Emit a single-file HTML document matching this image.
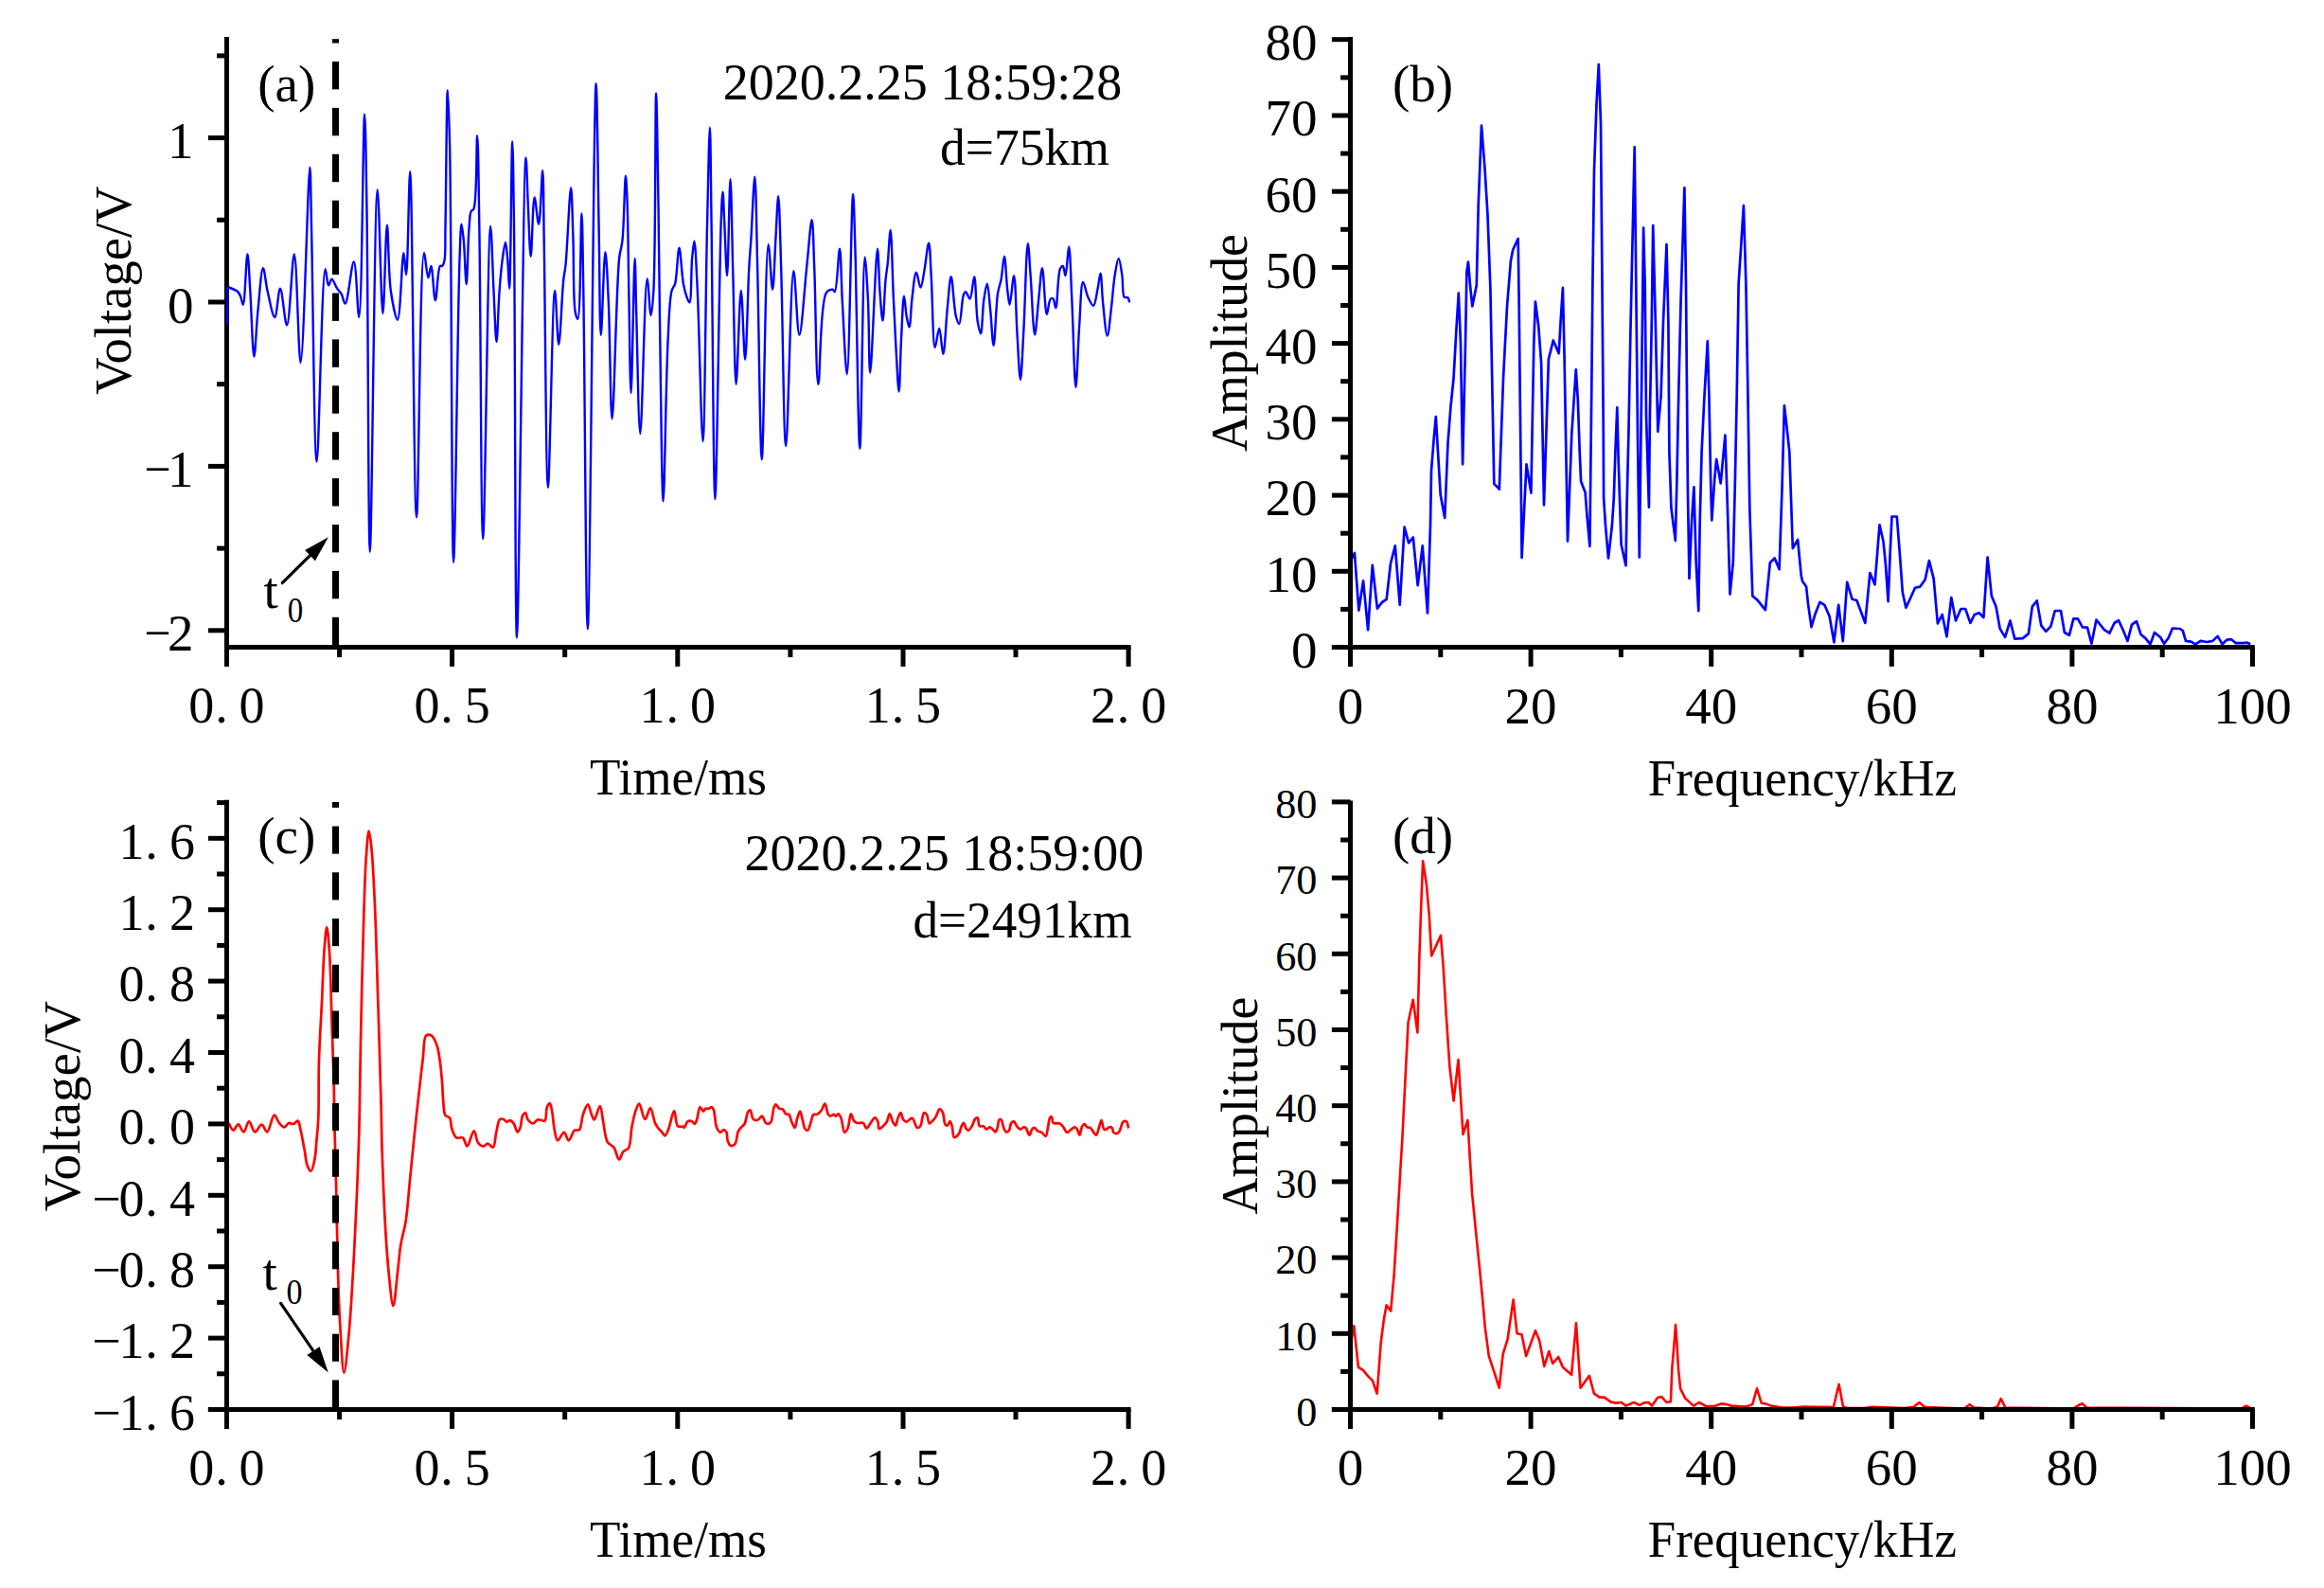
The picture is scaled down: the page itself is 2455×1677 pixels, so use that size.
<!DOCTYPE html><html><head><meta charset="utf-8"><style>html,body{margin:0;padding:0;background:#fff;overflow:hidden}svg{display:block}</style></head><body><svg width="2455" height="1677" viewBox="0 0 2455 1677">
<rect width="2455" height="1677" fill="#fff"/>
<path d="M240.0,343.0 C240.0,343.0 237.2,306.0 240.5,303.6 C241.6,302.8 243.4,304.4 245.0,305.0 C246.8,305.7 249.2,306.2 250.7,307.5 C252.2,308.8 253.1,310.9 254.1,313.0 C255.2,315.5 256.0,321.8 256.8,321.7 C258.8,321.5 260.1,268.4 261.4,268.4 C262.5,268.4 263.3,292.3 264.3,307.0 C265.6,326.8 266.9,376.5 268.4,376.5 C269.6,376.5 270.7,345.2 272.3,329.6 C273.9,314.1 275.9,283.3 277.9,283.2 C279.4,283.1 280.6,298.8 282.5,307.0 C284.6,316.0 288.0,335.1 290.2,335.0 C292.5,334.9 294.0,304.7 296.0,304.7 C298.3,304.7 300.9,343.5 303.1,343.4 C306.1,343.3 308.6,268.4 310.8,268.4 C313.6,268.5 315.3,383.0 317.6,383.0 C320.7,383.0 325.5,176.6 327.3,176.6 C328.3,176.6 328.3,211.3 329.0,239.0 C330.4,294.3 332.0,487.5 334.6,487.5 C337.0,487.5 339.9,284.6 343.6,284.3 C344.7,284.2 345.5,301.1 347.0,301.3 C348.0,301.4 349.1,294.6 350.4,294.6 C352.0,294.6 354.2,301.9 356.1,304.7 C357.6,306.9 359.3,308.1 360.6,310.4 C362.2,313.2 363.3,320.7 364.7,320.6 C367.6,320.3 371.4,276.3 373.8,276.4 C376.5,276.5 377.7,335.1 379.3,335.0 C382.3,334.9 383.6,120.7 385.1,120.7 C386.1,120.7 386.7,173.9 387.4,216.0 C388.8,298.5 389.0,582.7 390.8,582.7 C392.7,582.7 395.7,200.4 398.7,200.4 C400.5,200.4 402.6,331.0 404.4,331.0 C405.9,331.0 407.4,237.8 408.9,237.8 C410.2,237.8 410.2,288.6 412.8,307.0 C414.6,319.4 418.0,337.8 420.0,337.7 C423.0,337.5 424.6,267.3 426.4,267.3 C427.4,267.3 428.3,290.0 429.1,290.0 C430.9,289.9 431.9,181.2 433.2,181.2 C435.6,181.2 437.3,546.4 440.0,546.4 C442.3,546.4 443.6,267.6 447.9,267.3 C449.2,267.2 450.9,293.4 452.4,293.4 C453.4,293.4 454.4,280.8 455.4,280.9 C457.0,281.0 458.3,317.2 459.9,317.2 C461.5,317.2 462.2,283.3 464.9,280.9 C465.6,280.3 466.5,281.3 467.1,280.9 C468.2,280.2 468.9,277.9 469.5,275.0 C470.9,268.2 470.1,255.0 470.5,239.0 C471.2,207.0 471.8,95.1 472.8,95.1 C473.5,95.1 474.4,124.7 475.1,153.0 C477.0,231.2 477.1,594.0 479.1,594.0 C480.8,594.0 483.5,328.3 485.5,274.0 C486.2,255.5 486.6,236.7 487.5,236.7 C488.1,236.7 489.1,246.6 489.8,253.7 C491.0,265.4 491.8,300.2 492.7,300.2 C493.7,300.2 494.3,255.0 495.5,241.0 C496.2,233.2 496.0,226.0 497.7,223.0 C498.4,221.7 499.6,222.4 500.4,220.8 C504.1,213.4 503.1,143.3 504.1,143.3 C505.2,143.3 505.6,196.0 506.3,236.7 C507.7,313.5 508.2,569.1 510.2,569.1 C512.2,569.1 515.6,239.0 518.1,239.0 C519.3,239.0 520.4,285.6 521.5,307.0 C522.5,326.0 523.5,361.0 524.5,361.0 C525.5,361.0 526.4,322.6 527.6,307.0 C528.5,295.0 529.3,284.4 530.6,275.2 C531.6,268.0 533.0,256.0 534.0,256.0 C534.9,256.0 535.7,268.1 536.3,275.2 C537.1,284.0 537.5,304.7 538.1,304.7 C539.4,304.7 540.3,149.4 541.2,149.4 C541.9,149.4 542.4,197.9 543.0,239.0 C544.2,329.4 544.1,673.3 546.0,673.3 C548.1,673.3 552.9,166.4 555.5,166.4 C556.3,166.4 557.0,199.3 557.8,216.3 C558.7,234.0 559.6,270.7 560.7,270.7 C561.9,270.7 562.8,208.5 564.6,208.4 C565.8,208.3 567.8,236.8 569.1,236.7 C570.9,236.6 572.3,180.0 573.2,180.0 C574.3,180.0 574.2,226.9 574.8,261.6 C575.9,322.7 576.9,514.7 578.9,514.7 C580.7,514.7 583.6,307.0 586.1,307.0 C587.4,307.0 588.8,363.8 590.2,363.8 C591.8,363.8 593.6,310.6 595.2,295.8 C596.0,288.6 596.7,287.3 597.5,279.9 C599.3,263.2 601.7,198.2 603.1,198.2 C604.2,198.2 604.7,231.1 605.4,250.3 C606.3,274.0 605.3,317.3 607.7,329.6 C608.4,333.5 609.6,337.1 610.4,337.0 C613.4,336.5 613.4,225.4 614.4,225.4 C615.3,225.4 615.6,270.2 616.3,307.0 C617.7,384.0 618.9,664.3 620.8,664.3 C623.2,664.3 627.3,88.3 629.6,88.3 C630.8,88.3 631.7,192.2 632.6,239.0 C633.4,279.9 633.5,354.0 634.8,354.0 C635.9,354.0 637.9,266.2 639.4,266.2 C640.6,266.2 641.8,297.2 642.8,318.3 C644.4,350.8 644.9,442.2 646.6,442.2 C648.6,442.2 651.0,301.4 654.1,273.0 C655.2,263.3 656.6,262.1 657.5,253.7 C659.3,238.0 659.9,185.7 660.9,185.7 C661.6,185.7 662.2,203.4 662.7,216.3 C663.5,238.5 663.7,275.4 664.3,307.0 C665.0,341.4 665.6,415.0 666.6,415.0 C667.7,415.0 669.6,273.0 670.6,273.0 C671.3,273.0 671.5,306.9 672.2,329.6 C673.2,363.8 674.6,458.0 676.3,458.0 C678.3,458.0 681.0,294.6 683.6,294.5 C684.9,294.5 686.4,333.0 687.6,333.0 C688.6,333.0 689.6,319.8 690.4,307.0 C692.6,270.8 692.1,98.5 693.1,98.5 C693.8,98.5 694.8,175.6 695.5,216.3 C696.2,260.0 696.4,304.0 697.2,352.3 C698.1,407.4 699.2,529.4 700.6,529.4 C702.0,529.4 703.4,402.1 705.5,361.5 C706.7,338.3 707.0,316.4 709.6,307.0 C710.6,303.5 712.2,302.7 713.0,300.2 C713.9,297.4 713.9,295.0 714.4,291.1 C715.3,284.1 716.3,261.6 717.5,261.6 C718.8,261.6 720.2,290.7 722.0,300.2 C723.1,305.9 724.2,310.1 725.5,313.6 C726.4,316.0 727.6,319.6 728.4,319.4 C730.5,319.0 730.0,284.9 731.1,273.0 C731.8,265.5 732.7,254.8 733.4,254.8 C734.6,254.8 735.7,284.9 736.8,307.0 C738.7,345.6 740.9,466.0 742.5,466.0 C744.4,466.0 745.5,300.1 747.0,239.0 C748.0,197.6 749.1,134.7 749.9,134.7 C750.6,134.7 750.9,190.8 751.5,232.0 C752.6,303.8 753.7,527.2 755.4,527.2 C757.1,527.2 759.8,282.7 761.7,234.4 C762.3,218.5 762.9,202.7 763.5,202.7 C764.1,202.7 764.5,220.5 765.1,232.0 C766.0,248.3 767.2,291.1 768.1,291.1 C769.3,291.1 770.5,189.1 771.5,189.1 C772.5,189.1 773.3,250.6 774.2,284.3 C775.3,322.4 776.1,405.9 777.6,405.9 C779.0,405.9 781.1,307.0 782.8,307.0 C784.3,307.0 785.8,379.7 787.1,379.7 C788.6,379.7 789.9,308.1 791.2,284.3 C792.0,270.1 792.7,263.4 793.5,250.3 C794.6,232.4 796.3,186.8 797.3,186.8 C798.6,186.8 799.2,246.0 800.2,284.3 C801.6,339.3 803.0,485.2 804.8,485.2 C806.7,485.2 808.6,258.3 811.6,258.2 C813.0,258.2 814.8,305.8 816.1,305.8 C817.5,305.8 818.4,267.6 819.5,250.3 C820.4,235.0 821.4,207.2 822.2,207.2 C823.3,207.2 824.2,253.0 825.2,284.3 C826.8,333.0 828.0,471.0 830.2,471.0 C832.4,471.0 835.2,286.2 838.3,286.1 C840.2,286.1 842.1,353.6 844.4,353.6 C846.8,353.6 850.0,301.7 852.4,279.8 C854.3,262.2 856.3,232.2 857.6,232.2 C859.0,232.2 859.4,263.3 860.3,284.3 C861.7,316.4 862.1,405.8 864.4,405.9 C866.5,406.0 865.9,319.4 872.8,309.2 C874.7,306.3 878.0,305.5 879.6,305.8 C880.6,306.0 881.1,308.3 881.8,308.1 C884.4,307.2 885.7,262.8 887.0,262.8 C888.4,262.8 888.6,298.3 889.8,318.3 C891.2,341.9 893.3,395.3 894.8,395.3 C897.2,395.3 899.4,205.0 901.1,205.0 C902.0,205.0 902.6,236.7 903.4,261.6 C904.9,309.8 906.6,473.9 908.3,473.9 C910.0,473.9 911.4,271.9 913.6,271.8 C914.6,271.8 916.1,300.9 917.0,318.3 C918.1,340.4 917.9,393.5 919.2,393.5 C920.9,393.5 925.1,262.8 926.9,262.8 C928.0,262.8 928.4,293.5 929.4,307.0 C930.3,318.4 931.5,338.6 932.5,338.6 C933.6,338.6 934.4,306.9 935.5,295.6 C936.2,288.3 937.1,284.5 937.8,277.5 C938.8,267.8 939.8,243.0 940.7,243.0 C941.9,243.0 942.7,290.0 943.7,311.5 C944.6,330.7 945.4,348.4 946.4,365.9 C947.4,382.3 948.7,413.5 949.6,413.5 C950.6,413.5 951.1,374.5 952.1,356.8 C953.0,341.1 953.8,312.6 955.0,312.6 C955.8,312.6 956.6,328.2 957.7,334.2 C958.5,338.6 959.7,345.6 960.5,345.5 C961.8,345.4 962.2,325.7 963.4,316.0 C964.6,306.5 966.1,287.8 967.9,287.7 C969.3,287.6 971.1,303.6 972.5,303.6 C973.9,303.6 975.1,293.1 976.3,286.6 C977.9,278.0 979.9,256.5 981.1,256.6 C982.5,256.7 982.9,279.0 983.8,293.4 C985.1,313.7 985.4,366.8 987.7,367.0 C988.9,367.1 990.8,346.6 992.2,346.6 C993.8,346.7 995.0,373.8 996.3,373.8 C998.0,373.8 999.3,339.7 1000.8,325.1 C1002.1,313.1 1003.3,292.2 1004.7,292.2 C1006.3,292.2 1007.6,325.8 1009.9,334.2 C1010.9,338.0 1012.3,342.2 1013.3,342.1 C1015.2,341.8 1015.9,316.5 1017.8,311.5 C1018.5,309.7 1019.2,308.1 1020.1,308.1 C1021.4,308.1 1023.3,315.8 1024.6,315.6 C1026.7,315.2 1028.0,292.1 1029.2,292.2 C1030.9,292.3 1030.9,327.9 1032.6,338.7 C1033.6,344.6 1035.0,352.4 1036.0,352.3 C1037.6,352.2 1037.9,325.7 1039.4,316.0 C1040.4,309.5 1041.8,299.7 1042.8,299.7 C1044.1,299.8 1045.1,317.5 1046.2,327.4 C1047.4,338.9 1048.4,364.8 1049.6,364.8 C1051.0,364.8 1052.1,321.4 1054.1,309.2 C1055.1,303.1 1056.5,300.8 1057.5,295.6 C1058.9,288.6 1059.9,270.7 1060.9,270.7 C1062.2,270.7 1063.1,297.6 1064.3,307.0 C1065.1,313.0 1065.7,321.7 1066.6,321.7 C1067.9,321.7 1069.9,291.0 1071.1,291.1 C1072.8,291.2 1073.3,333.1 1074.5,352.3 C1075.6,369.5 1076.8,401.0 1077.9,401.0 C1079.0,401.0 1080.2,369.5 1081.3,350.0 C1082.8,323.6 1084.2,257.1 1085.8,257.1 C1086.8,257.1 1087.7,279.8 1088.8,293.4 C1090.1,310.9 1091.5,353.4 1093.1,353.4 C1094.4,353.4 1095.8,328.1 1097.2,316.0 C1098.5,304.7 1099.7,283.2 1101.0,283.2 C1102.6,283.2 1103.8,331.8 1105.8,331.9 C1106.9,332.0 1107.7,317.9 1109.6,316.0 C1110.4,315.2 1111.5,314.9 1112.3,315.3 C1113.8,316.1 1114.4,325.2 1115.3,325.1 C1117.1,324.9 1117.2,290.3 1119.8,284.3 C1120.7,282.3 1122.0,280.7 1122.8,280.9 C1124.1,281.2 1124.7,291.2 1125.5,291.1 C1126.9,291.0 1128.1,260.5 1129.1,260.5 C1130.5,260.5 1131.2,295.1 1132.3,316.0 C1133.7,343.0 1135.0,409.0 1136.4,409.0 C1137.6,409.0 1138.8,363.1 1140.2,343.2 C1141.4,326.7 1141.8,298.2 1144.1,297.9 C1145.5,297.7 1147.2,309.4 1149.3,313.8 C1151.0,317.3 1153.4,323.1 1155.0,322.8 C1157.1,322.5 1158.3,310.6 1159.6,304.7 C1160.8,299.2 1161.7,288.8 1162.5,288.8 C1163.7,288.9 1164.0,309.8 1165.2,320.6 C1166.4,331.8 1168.2,354.6 1169.7,354.6 C1171.2,354.6 1172.9,333.4 1174.2,322.8 C1175.5,312.2 1176.1,300.2 1177.6,291.1 C1178.8,284.2 1180.4,272.9 1181.7,272.9 C1183.0,272.9 1184.4,284.7 1185.4,291.1 C1186.5,298.2 1185.3,311.3 1187.7,313.8 C1188.6,314.8 1190.4,313.6 1191.3,314.3 C1192.4,315.2 1193.1,319.4 1193.1,319.4" fill="none" stroke="#0000ff" stroke-width="2.4" stroke-linejoin="round"/>
<polyline points="1426.5,593.0 1430.9,584.0 1435.4,644.6 1440.1,613.4 1445.1,665.1 1449.8,596.8 1454.9,642.6 1460.0,636.0 1464.7,632.9 1469.0,595.0 1473.8,576.3 1478.7,638.7 1483.6,556.7 1488.1,573.3 1492.8,567.5 1497.7,618.2 1502.7,576.3 1508.0,647.5 1511.0,555.0 1512.0,497.0 1514.8,462.0 1516.8,440.1 1521.7,522.5 1526.2,547.0 1529.5,468.0 1532.5,429.0 1535.5,400.0 1538.3,350.0 1540.8,309.7 1543.0,363.0 1545.1,490.3 1548.0,363.0 1549.4,287.0 1551.0,276.5 1553.0,301.0 1555.3,323.4 1559.8,301.0 1561.7,217.0 1565.0,132.6 1568.5,178.0 1571.5,227.0 1574.4,305.0 1578.3,510.8 1583.8,516.7 1588.0,400.0 1592.0,324.0 1595.9,275.5 1598.2,263.8 1603.7,252.1 1604.7,324.0 1607.6,588.9 1612.5,490.3 1617.4,520.6 1620.3,363.0 1621.9,318.5 1625.2,344.0 1628.1,383.0 1631.0,533.3 1635.9,379.0 1640.8,359.5 1646.7,373.1 1648.6,340.0 1650.9,303.8 1652.5,373.0 1656.0,571.4 1660.3,458.0 1664.8,390.3 1666.8,422.0 1668.7,477.0 1670.1,508.4 1674.6,520.0 1676.5,545.0 1679.4,576.8 1681.4,400.0 1682.4,300.0 1684.0,180.0 1686.5,110.0 1688.8,68.2 1691.0,130.0 1692.5,300.0 1693.8,460.0 1694.1,526.0 1696.0,555.0 1699.0,589.5 1702.9,555.0 1704.8,526.0 1706.4,477.0 1708.3,430.3 1709.7,487.0 1712.6,575.0 1717.5,597.3 1718.5,536.0 1720.4,458.0 1722.4,350.0 1726.7,155.3 1728.3,300.0 1730.2,477.0 1731.8,588.5 1733.2,477.0 1734.1,409.0 1736.1,240.6 1737.7,300.0 1739.0,438.0 1741.9,535.7 1742.9,438.0 1744.8,340.0 1746.2,238.1 1748.8,340.0 1751.3,455.7 1754.6,418.0 1757.0,340.0 1760.5,258.2 1762.4,340.0 1763.4,477.0 1765.4,536.0 1769.8,570.9 1771.2,516.0 1773.2,418.0 1775.5,320.0 1779.4,198.3 1781.0,300.0 1782.9,516.0 1784.5,610.9 1786.8,555.0 1789.4,514.3 1791.7,594.0 1794.3,645.1 1795.6,555.0 1797.6,477.0 1800.5,418.0 1803.8,360.3 1805.4,418.0 1807.3,516.0 1808.3,549.4 1811.2,506.0 1813.2,485.0 1817.7,510.4 1822.4,459.6 1824.9,536.0 1827.5,627.5 1830.8,594.0 1832.7,516.0 1834.7,418.0 1836.6,300.0 1841.9,217.2 1844.4,300.0 1846.3,409.0 1848.3,536.0 1851.3,629.5 1856.2,633.4 1864.9,644.1 1869.8,594.3 1874.7,589.5 1879.6,601.2 1882.5,516.0 1884.9,428.3 1887.4,449.8 1890.3,477.0 1893.8,579.0 1899.1,570.0 1902.7,607.7 1904.0,613.7 1908.1,619.6 1910.0,637.6 1913.5,662.1 1917.1,649.6 1922.5,635.8 1927.3,638.8 1932.6,650.8 1937.4,678.3 1942.2,638.8 1946.8,677.1 1951.2,614.9 1956.6,632.8 1961.4,634.0 1970.3,657.9 1975.4,605.0 1980.5,617.3 1985.5,554.4 1989.5,571.8 1991.9,595.7 1994.6,635.2 1996.7,583.8 1998.5,545.5 2003.8,545.5 2006.8,583.8 2009.8,625.5 2013.4,641.8 2017.6,632.8 2023.0,620.8 2028.4,619.6 2033.7,611.9 2037.9,592.1 2042.7,611.3 2046.9,658.5 2051.7,649.0 2056.5,672.3 2061.3,631.0 2066.0,655.5 2071.4,643.0 2076.2,643.0 2081.4,657.9 2085.8,649.0 2090.6,647.2 2095.4,652.0 2099.6,588.5 2103.8,629.2 2108.5,640.6 2112.7,663.9 2118.1,672.9 2123.5,655.5 2128.3,674.7 2136.7,674.1 2142.9,669.1 2146.8,640.6 2151.8,634.4 2156.3,660.7 2161.3,666.8 2166.4,661.3 2170.8,645.0 2177.0,645.0 2180.9,668.0 2185.9,670.8 2190.4,653.4 2194.9,653.4 2199.9,662.4 2205.0,662.7 2209.4,679.7 2214.5,654.5 2222.9,665.2 2228.5,668.5 2233.5,658.0 2238.0,655.1 2242.4,664.6 2247.5,676.9 2252.0,659.7 2257.0,656.2 2261.5,670.0 2266.5,674.1 2271.5,680.3 2276.0,668.0 2282.2,673.0 2286.1,679.7 2290.5,674.0 2295.0,663.5 2302.9,664.0 2305.8,666.0 2309.0,676.9 2314.6,677.7 2319.1,680.3 2324.6,676.9 2331.4,678.0 2337.5,676.9 2342.6,671.9 2347.6,680.3 2352.6,675.6 2357.1,675.2 2362.0,679.2 2369.4,679.2 2373.9,678.7 2377.3,680.3" fill="none" stroke="#0000ff" stroke-width="2.7" stroke-linejoin="round"/>
<path d="M241.7,1186.0 C241.7,1186.0 244.8,1193.5 246.5,1193.6 C248.1,1193.7 250.0,1187.2 251.7,1187.3 C253.6,1187.4 255.6,1195.6 257.4,1195.5 C259.4,1195.4 261.0,1184.4 263.0,1184.3 C265.0,1184.2 266.9,1195.0 269.3,1195.3 C271.5,1195.6 274.3,1187.5 276.5,1187.6 C278.6,1187.7 280.4,1195.7 282.2,1195.5 C284.8,1195.2 287.2,1177.8 289.7,1177.6 C291.5,1177.5 293.0,1183.8 295.0,1186.0 C296.7,1187.9 298.7,1190.5 300.4,1190.4 C302.0,1190.3 303.3,1186.5 305.0,1186.0 C306.5,1185.6 308.3,1187.3 309.8,1187.0 C311.5,1186.7 313.5,1183.3 314.7,1183.7 C316.3,1184.3 316.5,1189.1 317.4,1192.8 C318.8,1198.4 320.3,1207.3 321.6,1214.0 C322.8,1220.1 323.1,1227.4 324.8,1231.4 C325.8,1233.8 327.4,1236.9 328.5,1236.7 C330.0,1236.5 331.3,1229.5 332.3,1225.0 C333.6,1219.0 333.8,1210.8 334.5,1203.5 C335.2,1195.8 335.9,1189.6 336.3,1180.0 C337.0,1165.0 336.3,1142.1 336.9,1122.0 C337.5,1100.2 339.2,1074.9 340.2,1054.0 C341.0,1036.1 341.4,1017.9 342.5,1004.1 C343.3,994.4 344.3,979.2 345.2,979.2 C346.2,979.2 347.4,996.8 348.2,1008.6 C349.4,1026.6 349.7,1053.9 350.4,1076.6 C351.2,1099.3 352.2,1123.9 352.7,1144.6 C353.1,1162.0 353.1,1175.6 353.5,1192.8 C353.9,1212.7 354.7,1234.1 355.2,1257.0 C355.8,1283.5 356.2,1317.5 357.0,1342.7 C357.6,1362.6 358.0,1378.4 359.1,1396.2 C360.2,1414.0 361.7,1449.7 363.4,1449.7 C364.9,1449.7 367.2,1422.6 368.7,1406.9 C370.5,1387.7 371.7,1364.1 373.0,1342.7 C374.2,1321.3 375.2,1301.4 376.2,1278.5 C377.4,1252.0 378.6,1222.0 379.4,1192.8 C380.2,1162.3 380.3,1133.4 381.0,1099.3 C381.9,1058.2 383.2,998.9 384.4,963.3 C385.2,940.4 385.6,922.4 386.7,906.7 C387.5,895.4 388.6,877.6 389.7,877.6 C390.5,877.6 391.6,887.7 392.4,895.3 C393.8,908.8 394.8,930.3 395.8,952.0 C397.2,981.0 398.1,1019.1 399.2,1054.0 C400.4,1090.8 401.8,1137.7 402.6,1167.3 C403.1,1186.3 403.0,1196.2 403.6,1214.2 C404.4,1238.5 405.9,1276.3 407.3,1299.9 C408.3,1316.6 409.1,1329.0 410.5,1342.7 C411.8,1355.3 413.8,1379.1 415.4,1379.1 C417.0,1379.1 418.7,1354.0 420.1,1342.7 C421.3,1332.8 421.8,1323.9 423.3,1314.8 C424.7,1306.0 427.2,1298.9 428.7,1289.2 C430.6,1276.8 431.5,1261.4 433.0,1246.3 C434.7,1229.5 436.8,1207.4 438.3,1192.8 C439.4,1182.7 440.0,1177.2 441.1,1167.3 C442.7,1153.4 445.1,1131.0 446.8,1117.4 C448.0,1108.0 447.2,1096.2 450.2,1093.6 C451.6,1092.4 454.2,1092.6 455.8,1093.6 C458.2,1095.0 460.0,1099.8 461.5,1103.8 C463.3,1108.9 464.0,1115.7 464.9,1122.0 C465.9,1128.8 466.5,1136.5 467.1,1143.4 C467.6,1149.9 467.6,1156.4 468.2,1162.4 C468.8,1167.9 468.5,1175.3 470.5,1178.0 C471.6,1179.6 473.9,1178.8 475.0,1180.3 C476.6,1182.5 476.0,1188.0 477.2,1191.5 C478.4,1195.0 479.8,1200.0 482.2,1201.5 C484.0,1202.6 487.1,1200.4 488.9,1201.5 C491.1,1202.8 491.8,1210.5 493.4,1210.5 C495.6,1210.5 498.6,1194.2 500.7,1194.3 C502.5,1194.4 503.0,1204.4 505.2,1207.1 C506.7,1209.0 509.1,1210.5 510.8,1210.5 C512.4,1210.5 513.7,1207.7 515.2,1207.7 C517.0,1207.7 519.4,1212.2 520.8,1211.6 C523.0,1210.7 522.9,1201.0 524.2,1196.0 C525.4,1191.2 526.0,1183.6 528.1,1182.0 C529.2,1181.2 530.8,1181.6 532.0,1182.0 C533.3,1182.5 534.2,1184.7 535.4,1184.8 C536.5,1184.9 537.6,1183.0 538.7,1183.1 C540.0,1183.2 541.4,1184.9 542.6,1186.4 C544.2,1188.5 545.3,1195.3 546.6,1195.4 C547.5,1195.5 548.6,1193.3 549.4,1191.5 C550.7,1188.4 550.7,1180.7 552.2,1178.0 C553.0,1176.6 554.2,1175.0 555.0,1175.2 C556.1,1175.4 556.2,1180.6 557.7,1182.5 C559.1,1184.3 561.6,1186.5 563.3,1186.4 C564.9,1186.3 566.2,1183.0 567.8,1182.5 C569.2,1182.1 570.9,1182.9 572.3,1183.1 C573.5,1183.3 574.7,1184.2 575.6,1183.6 C577.4,1182.3 576.6,1172.3 577.9,1169.1 C578.7,1167.3 579.9,1165.1 580.7,1165.2 C581.8,1165.4 582.5,1170.2 583.2,1173.6 C584.2,1178.4 584.4,1186.1 585.5,1191.5 C586.4,1196.2 587.2,1203.9 589.1,1204.3 C590.8,1204.6 593.8,1195.8 595.8,1195.9 C597.7,1196.0 599.0,1204.3 600.8,1204.3 C602.8,1204.3 604.6,1195.3 607.0,1193.7 C608.5,1192.7 610.7,1194.3 612.0,1193.1 C614.4,1190.9 614.2,1181.7 615.9,1176.9 C617.3,1172.9 619.5,1166.2 621.0,1166.3 C622.5,1166.4 623.6,1174.0 624.9,1176.9 C625.8,1179.1 626.6,1182.5 627.7,1182.5 C629.4,1182.4 632.2,1167.8 633.8,1168.0 C635.4,1168.2 636.0,1178.9 637.2,1184.8 C638.6,1191.5 639.0,1201.5 641.7,1206.0 C643.4,1208.9 646.5,1209.1 648.4,1211.6 C650.8,1214.8 652.2,1224.4 654.0,1224.5 C655.5,1224.6 656.5,1218.2 658.4,1216.1 C660.0,1214.3 662.6,1214.5 664.0,1212.2 C666.6,1208.1 666.1,1197.1 667.4,1190.3 C668.6,1184.3 669.7,1178.1 671.3,1173.6 C672.4,1170.4 673.8,1165.6 675.2,1165.7 C677.1,1165.8 679.3,1181.9 681.4,1182.0 C683.2,1182.1 685.3,1170.1 687.0,1170.2 C688.9,1170.3 690.3,1182.1 692.0,1185.9 C693.1,1188.3 694.2,1189.9 695.4,1191.5 C696.4,1192.8 697.6,1193.6 698.7,1194.8 C700.0,1196.2 701.4,1199.5 702.6,1199.3 C704.0,1199.1 705.2,1194.7 706.5,1191.5 C708.4,1186.7 710.5,1173.0 712.1,1173.0 C713.6,1173.0 713.5,1187.0 716.0,1189.2 C717.5,1190.5 720.5,1189.3 721.6,1189.8 C722.2,1190.1 722.3,1191.0 722.7,1190.9 C723.7,1190.8 724.9,1185.2 726.6,1184.2 C727.9,1183.5 729.9,1183.7 731.1,1184.2 C732.3,1184.7 733.1,1187.1 733.9,1187.0 C734.8,1186.8 735.4,1184.4 736.1,1182.5 C737.3,1179.3 738.0,1169.4 739.5,1169.1 C740.5,1168.9 741.9,1173.6 742.9,1173.6 C743.7,1173.6 744.2,1171.3 745.1,1170.8 C746.0,1170.4 747.3,1171.1 748.4,1170.8 C749.6,1170.5 750.9,1168.9 751.8,1169.1 C752.7,1169.4 753.4,1170.8 754.0,1172.4 C755.2,1175.6 755.4,1184.5 756.3,1188.1 C756.8,1190.1 757.2,1191.3 758.0,1192.6 C758.7,1193.9 759.7,1195.8 760.8,1195.9 C761.9,1196.0 763.5,1193.0 764.7,1193.1 C765.8,1193.2 766.8,1194.6 767.5,1195.9 C768.5,1197.8 767.8,1201.9 768.6,1204.3 C769.3,1206.4 770.5,1209.4 771.9,1209.9 C773.1,1210.3 775.2,1209.5 776.4,1208.2 C778.4,1205.9 778.3,1198.0 779.8,1194.8 C780.8,1192.8 781.9,1191.6 783.1,1190.3 C784.2,1189.1 785.5,1188.7 786.5,1187.0 C788.2,1184.2 788.8,1175.6 790.4,1173.6 C791.1,1172.8 792.0,1172.1 792.6,1172.4 C793.9,1172.9 793.9,1179.7 795.4,1181.4 C796.3,1182.5 797.7,1183.1 798.8,1183.1 C799.8,1183.1 800.7,1182.6 801.6,1182.0 C802.8,1181.2 803.9,1178.4 805.0,1178.6 C806.4,1178.8 807.6,1184.6 808.9,1185.9 C809.6,1186.6 810.3,1187.0 811.1,1187.0 C812.1,1186.9 813.6,1186.2 814.5,1184.8 C816.2,1182.2 816.1,1173.5 817.3,1170.2 C818.0,1168.4 818.6,1166.4 819.5,1166.3 C820.6,1166.2 822.0,1170.0 823.4,1170.8 C824.5,1171.4 825.8,1170.7 826.8,1171.3 C828.1,1172.2 828.8,1175.5 830.1,1176.4 C831.1,1177.0 832.6,1176.1 833.5,1176.9 C834.9,1178.1 835.2,1182.4 836.3,1184.8 C837.3,1187.0 838.7,1191.0 839.6,1190.9 C840.8,1190.8 841.3,1183.4 842.4,1180.3 C843.3,1177.8 844.3,1173.5 845.2,1173.6 C846.2,1173.7 847.1,1180.4 848.0,1183.6 C848.8,1186.5 849.1,1190.4 850.3,1192.0 C851.1,1193.0 852.2,1194.0 853.1,1193.7 C854.7,1193.2 855.9,1186.6 857.0,1183.6 C857.9,1181.1 858.0,1177.8 859.3,1176.9 C860.2,1176.3 861.5,1177.3 862.6,1176.9 C864.0,1176.4 865.7,1175.1 867.0,1173.6 C868.7,1171.7 870.2,1165.6 871.5,1165.7 C872.9,1165.9 873.5,1174.9 874.9,1176.9 C875.6,1177.9 876.2,1178.5 877.1,1178.6 C878.2,1178.7 880.0,1176.7 881.0,1176.9 C881.7,1177.0 882.0,1178.6 882.7,1178.6 C883.5,1178.6 884.6,1176.3 885.5,1176.4 C886.5,1176.5 887.4,1178.5 888.3,1180.3 C889.9,1183.7 890.5,1195.5 892.2,1195.9 C893.2,1196.1 894.6,1193.5 895.6,1191.5 C897.2,1188.1 897.6,1176.5 898.9,1176.4 C899.8,1176.3 900.5,1181.4 901.7,1183.1 C902.7,1184.4 903.7,1185.4 905.1,1185.9 C906.9,1186.5 910.1,1185.0 911.8,1185.9 C913.5,1186.8 913.9,1191.4 915.2,1191.5 C916.5,1191.6 918.2,1187.8 919.7,1185.9 C921.2,1184.0 922.7,1180.3 924.1,1180.3 C925.3,1180.3 926.7,1183.0 927.5,1184.8 C928.4,1186.8 927.4,1191.6 928.6,1192.0 C930.0,1192.5 934.5,1188.0 936.4,1185.3 C938.2,1182.7 938.7,1176.4 939.8,1176.4 C940.9,1176.4 942.0,1182.6 943.2,1184.8 C944.1,1186.4 945.1,1188.8 945.9,1188.7 C947.0,1188.5 947.6,1182.7 948.7,1180.3 C949.6,1178.3 950.6,1175.1 951.5,1175.2 C952.5,1175.3 953.0,1180.9 954.3,1182.5 C955.2,1183.7 956.5,1184.8 957.7,1184.8 C959.2,1184.7 961.4,1181.0 962.7,1180.8 C963.4,1180.7 963.8,1180.9 964.4,1181.4 C965.8,1182.7 967.2,1190.3 968.9,1190.9 C969.9,1191.2 971.3,1190.4 972.2,1189.2 C974.0,1187.0 974.2,1177.4 975.6,1175.8 C976.1,1175.2 976.7,1175.1 977.2,1175.2 C978.0,1175.4 978.8,1176.7 979.4,1178.0 C980.4,1180.0 980.5,1186.0 981.7,1186.4 C982.5,1186.7 983.5,1185.1 984.5,1184.2 C985.7,1183.0 987.4,1181.2 988.4,1179.7 C989.2,1178.4 989.5,1177.1 990.1,1175.8 C990.8,1174.3 991.4,1171.7 992.3,1171.3 C992.8,1171.1 993.5,1171.5 994.0,1171.9 C994.8,1172.6 995.6,1174.1 996.2,1175.8 C997.2,1178.6 997.2,1185.7 998.5,1187.5 C999.1,1188.3 1000.0,1188.9 1000.7,1188.7 C1001.7,1188.4 1002.7,1184.1 1003.5,1184.2 C1004.3,1184.3 1005.1,1187.1 1005.7,1189.2 C1006.7,1192.3 1006.3,1200.4 1008.0,1201.0 C1009.2,1201.4 1011.7,1198.9 1013.0,1197.1 C1014.5,1195.1 1014.8,1191.2 1015.8,1189.2 C1016.5,1187.8 1017.3,1185.8 1018.0,1185.9 C1018.9,1186.0 1019.7,1190.7 1020.8,1192.0 C1021.5,1192.9 1022.3,1193.8 1023.1,1193.7 C1024.3,1193.5 1025.9,1190.6 1027.0,1188.7 C1028.2,1186.7 1028.6,1183.4 1029.8,1182.0 C1030.6,1181.1 1031.9,1180.0 1032.6,1180.3 C1033.9,1180.8 1033.3,1188.0 1034.8,1189.2 C1035.8,1190.0 1037.5,1188.7 1038.7,1189.2 C1040.0,1189.7 1040.9,1192.5 1042.1,1192.6 C1043.2,1192.7 1044.3,1190.3 1045.4,1190.3 C1046.5,1190.3 1047.8,1191.7 1048.8,1192.6 C1049.8,1193.4 1050.8,1195.6 1051.6,1195.4 C1052.5,1195.2 1053.2,1192.2 1053.8,1190.3 C1054.5,1188.0 1054.4,1183.4 1055.5,1182.5 C1056.1,1182.0 1057.1,1182.0 1057.7,1182.5 C1058.9,1183.4 1059.1,1188.0 1060.0,1190.3 C1060.8,1192.2 1061.6,1195.0 1062.8,1195.4 C1063.7,1195.7 1065.3,1194.7 1066.1,1193.7 C1067.2,1192.3 1066.8,1188.6 1067.8,1187.0 C1068.6,1185.7 1070.2,1184.0 1071.2,1184.2 C1072.3,1184.4 1072.8,1187.8 1074.0,1189.2 C1075.1,1190.6 1076.6,1192.5 1077.9,1192.6 C1079.0,1192.7 1080.3,1190.5 1081.3,1190.3 C1082.1,1190.2 1082.8,1190.3 1083.5,1190.9 C1084.9,1192.0 1086.2,1198.7 1087.4,1198.7 C1088.4,1198.7 1089.1,1193.9 1090.2,1192.6 C1090.9,1191.7 1091.5,1190.9 1092.4,1190.9 C1093.6,1190.9 1095.4,1194.0 1096.9,1194.8 C1098.0,1195.4 1099.2,1195.2 1100.3,1195.9 C1101.8,1196.7 1103.6,1200.2 1104.7,1199.9 C1106.1,1199.5 1106.3,1193.5 1107.0,1190.3 C1107.8,1187.0 1108.1,1181.9 1109.2,1180.3 C1109.7,1179.6 1110.4,1179.0 1110.9,1179.2 C1111.8,1179.5 1111.2,1184.7 1112.6,1185.9 C1114.0,1187.1 1117.5,1185.7 1119.3,1186.4 C1120.7,1187.0 1121.5,1188.0 1122.6,1189.2 C1124.1,1190.9 1125.5,1195.6 1127.1,1195.9 C1128.2,1196.1 1129.3,1194.5 1130.5,1193.7 C1131.9,1192.7 1133.6,1190.4 1134.9,1190.3 C1135.8,1190.2 1136.5,1190.7 1137.2,1191.5 C1138.5,1192.8 1139.6,1198.8 1140.5,1198.7 C1141.5,1198.6 1141.7,1192.4 1142.8,1190.3 C1143.6,1188.8 1144.7,1187.0 1145.6,1187.0 C1146.5,1187.0 1147.2,1189.7 1148.3,1190.3 C1149.3,1190.9 1150.5,1190.2 1151.7,1190.9 C1153.7,1192.1 1156.4,1198.9 1157.9,1198.7 C1159.2,1198.5 1159.8,1194.0 1160.7,1191.5 C1161.7,1188.8 1162.6,1183.1 1163.5,1183.1 C1164.5,1183.1 1164.9,1191.6 1166.3,1192.6 C1166.9,1193.1 1167.7,1192.8 1168.5,1192.6 C1169.6,1192.3 1170.8,1190.5 1171.9,1190.3 C1172.8,1190.1 1174.0,1190.3 1174.7,1190.9 C1175.7,1191.8 1175.3,1194.9 1176.3,1195.9 C1177.1,1196.7 1178.7,1197.3 1179.7,1197.1 C1180.7,1196.9 1181.6,1196.0 1182.5,1194.8 C1184.0,1192.7 1184.7,1186.2 1186.4,1184.8 C1187.4,1184.0 1188.9,1183.7 1189.8,1184.2 C1191.1,1185.0 1192.0,1191.5 1192.0,1191.5" fill="none" stroke="#ff0000" stroke-width="2.7" stroke-linejoin="round"/>
<polyline points="1427.5,1415.0 1430.3,1400.2 1434.9,1443.9 1439.8,1446.9 1444.8,1452.8 1449.8,1457.8 1454.7,1471.7 1458.7,1418.0 1461.7,1394.3 1464.6,1378.4 1469.2,1384.4 1472.6,1346.7 1475.6,1299.0 1478.5,1249.4 1481.5,1199.8 1484.2,1145.5 1486.1,1107.7 1487.6,1079.4 1492.7,1055.8 1497.4,1090.4 1499.3,1013.3 1501.2,956.7 1503.1,909.4 1506.9,934.0 1509.7,966.1 1512.2,1009.5 1522.0,987.8 1524.8,1022.8 1527.6,1070.0 1531.4,1126.6 1535.6,1162.5 1540.5,1119.1 1542.8,1155.0 1545.5,1197.9 1550.4,1183.0 1552.0,1209.8 1555.0,1259.4 1558.9,1299.0 1562.9,1338.7 1565.8,1368.5 1568.8,1402.2 1572.8,1432.0 1578.7,1449.8 1583.7,1465.7 1587.7,1430.0 1592.6,1414.1 1598.6,1372.5 1602.5,1408.2 1607.5,1409.2 1612.1,1432.0 1622.0,1405.2 1626.3,1416.1 1631.3,1442.9 1636.3,1427.0 1640.2,1439.9 1646.2,1433.0 1651.1,1444.1 1660.1,1451.8 1665.0,1397.3 1669.6,1465.7 1678.9,1452.8 1683.9,1471.7 1689.8,1475.6 1694.8,1475.6 1701.7,1480.6 1707.0,1481.6 1712.9,1481.0 1717.3,1484.6 1726.1,1481.0 1731.9,1483.9 1737.0,1481.4 1741.5,1481.0 1745.1,1484.6 1751.0,1476.0 1755.4,1475.1 1760.5,1481.0 1764.9,1480.2 1766.3,1445.0 1768.5,1419.5 1770.0,1399.0 1771.5,1419.5 1773.0,1445.8 1775.1,1466.3 1780.2,1476.6 1789.0,1484.6 1794.9,1481.0 1802.2,1485.0 1810.9,1485.0 1818.3,1482.4 1824.1,1483.1 1828.5,1484.6 1844.6,1485.5 1851.2,1483.1 1856.0,1466.3 1860.7,1481.7 1865.0,1482.4 1870.9,1484.6 1882.6,1486.5 1894.0,1486.5 1905.0,1485.6 1936.8,1486.0 1942.6,1461.9 1947.0,1485.5 1951.4,1487.0 1970.0,1487.0 1977.7,1485.8 2012.0,1487.0 2021.7,1485.8 2027.5,1481.0 2033.3,1486.0 2075.0,1487.5 2080.7,1483.2 2085.2,1486.5 2104.8,1487.5 2110.0,1485.4 2113.8,1477.1 2118.3,1486.5 2190.0,1487.5 2195.0,1484.5 2199.6,1482.1 2204.2,1486.5 2368.0,1487.5 2372.8,1484.7 2377.0,1487.0" fill="none" stroke="#ff0000" stroke-width="2.6" stroke-linejoin="round"/>
<line x1="239.5" y1="39.0" x2="239.5" y2="703.9" stroke="#000" stroke-width="5.0" stroke-linecap="butt"/>
<line x1="237.0" y1="683.5" x2="1194.6" y2="683.5" stroke="#000" stroke-width="5.0" stroke-linecap="butt"/>
<line x1="239.5" y1="683.5" x2="239.5" y2="703.9" stroke="#000" stroke-width="5.0" />
<line x1="477.6" y1="683.5" x2="477.6" y2="703.9" stroke="#000" stroke-width="5.0" />
<line x1="715.8" y1="683.5" x2="715.8" y2="703.9" stroke="#000" stroke-width="5.0" />
<line x1="954.0" y1="683.5" x2="954.0" y2="703.9" stroke="#000" stroke-width="5.0" />
<line x1="1192.1" y1="683.5" x2="1192.1" y2="703.9" stroke="#000" stroke-width="5.0" />
<line x1="358.6" y1="683.5" x2="358.6" y2="694.1" stroke="#000" stroke-width="5.0" />
<line x1="596.7" y1="683.5" x2="596.7" y2="694.1" stroke="#000" stroke-width="5.0" />
<line x1="834.9" y1="683.5" x2="834.9" y2="694.1" stroke="#000" stroke-width="5.0" />
<line x1="1073.0" y1="683.5" x2="1073.0" y2="694.1" stroke="#000" stroke-width="5.0" />
<line x1="219.9" y1="665.8" x2="239.5" y2="665.8" stroke="#000" stroke-width="5.0" />
<line x1="219.9" y1="492.4" x2="239.5" y2="492.4" stroke="#000" stroke-width="5.0" />
<line x1="219.9" y1="319.0" x2="239.5" y2="319.0" stroke="#000" stroke-width="5.0" />
<line x1="219.9" y1="145.6" x2="239.5" y2="145.6" stroke="#000" stroke-width="5.0" />
<line x1="229.1" y1="579.1" x2="239.5" y2="579.1" stroke="#000" stroke-width="5.0" />
<line x1="229.1" y1="405.7" x2="239.5" y2="405.7" stroke="#000" stroke-width="5.0" />
<line x1="229.1" y1="232.3" x2="239.5" y2="232.3" stroke="#000" stroke-width="5.0" />
<line x1="229.1" y1="58.9" x2="239.5" y2="58.9" stroke="#000" stroke-width="5.0" />
<line x1="1426.5" y1="39.0" x2="1426.5" y2="703.9" stroke="#000" stroke-width="5.0" stroke-linecap="butt"/>
<line x1="1406.9" y1="683.5" x2="2381.8" y2="683.5" stroke="#000" stroke-width="5.0" stroke-linecap="butt"/>
<line x1="1426.5" y1="683.5" x2="1426.5" y2="703.9" stroke="#000" stroke-width="5.0" />
<line x1="1617.1" y1="683.5" x2="1617.1" y2="703.9" stroke="#000" stroke-width="5.0" />
<line x1="1807.7" y1="683.5" x2="1807.7" y2="703.9" stroke="#000" stroke-width="5.0" />
<line x1="1998.3" y1="683.5" x2="1998.3" y2="703.9" stroke="#000" stroke-width="5.0" />
<line x1="2188.9" y1="683.5" x2="2188.9" y2="703.9" stroke="#000" stroke-width="5.0" />
<line x1="2379.5" y1="683.5" x2="2379.5" y2="703.9" stroke="#000" stroke-width="5.0" />
<line x1="1521.8" y1="683.5" x2="1521.8" y2="694.1" stroke="#000" stroke-width="5.0" />
<line x1="1712.4" y1="683.5" x2="1712.4" y2="694.1" stroke="#000" stroke-width="5.0" />
<line x1="1903.0" y1="683.5" x2="1903.0" y2="694.1" stroke="#000" stroke-width="5.0" />
<line x1="2093.6" y1="683.5" x2="2093.6" y2="694.1" stroke="#000" stroke-width="5.0" />
<line x1="2284.2" y1="683.5" x2="2284.2" y2="694.1" stroke="#000" stroke-width="5.0" />
<line x1="1406.9" y1="683.5" x2="1426.5" y2="683.5" stroke="#000" stroke-width="5.0" />
<line x1="1406.9" y1="603.3" x2="1426.5" y2="603.3" stroke="#000" stroke-width="5.0" />
<line x1="1406.9" y1="523.1" x2="1426.5" y2="523.1" stroke="#000" stroke-width="5.0" />
<line x1="1406.9" y1="442.8" x2="1426.5" y2="442.8" stroke="#000" stroke-width="5.0" />
<line x1="1406.9" y1="362.6" x2="1426.5" y2="362.6" stroke="#000" stroke-width="5.0" />
<line x1="1406.9" y1="282.4" x2="1426.5" y2="282.4" stroke="#000" stroke-width="5.0" />
<line x1="1406.9" y1="202.2" x2="1426.5" y2="202.2" stroke="#000" stroke-width="5.0" />
<line x1="1406.9" y1="122.0" x2="1426.5" y2="122.0" stroke="#000" stroke-width="5.0" />
<line x1="1406.9" y1="41.7" x2="1426.5" y2="41.7" stroke="#000" stroke-width="5.0" />
<line x1="1416.1" y1="643.4" x2="1426.5" y2="643.4" stroke="#000" stroke-width="5.0" />
<line x1="1416.1" y1="563.2" x2="1426.5" y2="563.2" stroke="#000" stroke-width="5.0" />
<line x1="1416.1" y1="482.9" x2="1426.5" y2="482.9" stroke="#000" stroke-width="5.0" />
<line x1="1416.1" y1="402.7" x2="1426.5" y2="402.7" stroke="#000" stroke-width="5.0" />
<line x1="1416.1" y1="322.5" x2="1426.5" y2="322.5" stroke="#000" stroke-width="5.0" />
<line x1="1416.1" y1="242.3" x2="1426.5" y2="242.3" stroke="#000" stroke-width="5.0" />
<line x1="1416.1" y1="162.1" x2="1426.5" y2="162.1" stroke="#000" stroke-width="5.0" />
<line x1="1416.1" y1="81.9" x2="1426.5" y2="81.9" stroke="#000" stroke-width="5.0" />
<line x1="239.5" y1="844.7" x2="239.5" y2="1508.9" stroke="#000" stroke-width="5.0" stroke-linecap="butt"/>
<line x1="219.9" y1="1488.5" x2="1194.6" y2="1488.5" stroke="#000" stroke-width="5.0" stroke-linecap="butt"/>
<line x1="239.5" y1="1488.5" x2="239.5" y2="1508.9" stroke="#000" stroke-width="5.0" />
<line x1="477.6" y1="1488.5" x2="477.6" y2="1508.9" stroke="#000" stroke-width="5.0" />
<line x1="715.8" y1="1488.5" x2="715.8" y2="1508.9" stroke="#000" stroke-width="5.0" />
<line x1="954.0" y1="1488.5" x2="954.0" y2="1508.9" stroke="#000" stroke-width="5.0" />
<line x1="1192.1" y1="1488.5" x2="1192.1" y2="1508.9" stroke="#000" stroke-width="5.0" />
<line x1="358.6" y1="1488.5" x2="358.6" y2="1499.1" stroke="#000" stroke-width="5.0" />
<line x1="596.7" y1="1488.5" x2="596.7" y2="1499.1" stroke="#000" stroke-width="5.0" />
<line x1="834.9" y1="1488.5" x2="834.9" y2="1499.1" stroke="#000" stroke-width="5.0" />
<line x1="1073.0" y1="1488.5" x2="1073.0" y2="1499.1" stroke="#000" stroke-width="5.0" />
<line x1="219.9" y1="1488.5" x2="239.5" y2="1488.5" stroke="#000" stroke-width="5.0" />
<line x1="219.9" y1="1413.1" x2="239.5" y2="1413.1" stroke="#000" stroke-width="5.0" />
<line x1="219.9" y1="1337.7" x2="239.5" y2="1337.7" stroke="#000" stroke-width="5.0" />
<line x1="219.9" y1="1262.3" x2="239.5" y2="1262.3" stroke="#000" stroke-width="5.0" />
<line x1="219.9" y1="1186.9" x2="239.5" y2="1186.9" stroke="#000" stroke-width="5.0" />
<line x1="219.9" y1="1111.5" x2="239.5" y2="1111.5" stroke="#000" stroke-width="5.0" />
<line x1="219.9" y1="1036.1" x2="239.5" y2="1036.1" stroke="#000" stroke-width="5.0" />
<line x1="219.9" y1="960.7" x2="239.5" y2="960.7" stroke="#000" stroke-width="5.0" />
<line x1="219.9" y1="885.3" x2="239.5" y2="885.3" stroke="#000" stroke-width="5.0" />
<line x1="229.1" y1="1450.8" x2="239.5" y2="1450.8" stroke="#000" stroke-width="5.0" />
<line x1="229.1" y1="1375.4" x2="239.5" y2="1375.4" stroke="#000" stroke-width="5.0" />
<line x1="229.1" y1="1300.0" x2="239.5" y2="1300.0" stroke="#000" stroke-width="5.0" />
<line x1="229.1" y1="1224.6" x2="239.5" y2="1224.6" stroke="#000" stroke-width="5.0" />
<line x1="229.1" y1="1149.2" x2="239.5" y2="1149.2" stroke="#000" stroke-width="5.0" />
<line x1="229.1" y1="1073.8" x2="239.5" y2="1073.8" stroke="#000" stroke-width="5.0" />
<line x1="229.1" y1="998.4" x2="239.5" y2="998.4" stroke="#000" stroke-width="5.0" />
<line x1="229.1" y1="923.0" x2="239.5" y2="923.0" stroke="#000" stroke-width="5.0" />
<line x1="229.1" y1="847.6" x2="239.5" y2="847.6" stroke="#000" stroke-width="5.0" />
<line x1="1426.5" y1="845.4" x2="1426.5" y2="1508.9" stroke="#000" stroke-width="5.0" stroke-linecap="butt"/>
<line x1="1406.9" y1="1488.5" x2="2381.8" y2="1488.5" stroke="#000" stroke-width="5.0" stroke-linecap="butt"/>
<line x1="1426.5" y1="1488.5" x2="1426.5" y2="1508.9" stroke="#000" stroke-width="5.0" />
<line x1="1617.1" y1="1488.5" x2="1617.1" y2="1508.9" stroke="#000" stroke-width="5.0" />
<line x1="1807.7" y1="1488.5" x2="1807.7" y2="1508.9" stroke="#000" stroke-width="5.0" />
<line x1="1998.3" y1="1488.5" x2="1998.3" y2="1508.9" stroke="#000" stroke-width="5.0" />
<line x1="2188.9" y1="1488.5" x2="2188.9" y2="1508.9" stroke="#000" stroke-width="5.0" />
<line x1="2379.5" y1="1488.5" x2="2379.5" y2="1508.9" stroke="#000" stroke-width="5.0" />
<line x1="1521.8" y1="1488.5" x2="1521.8" y2="1499.1" stroke="#000" stroke-width="5.0" />
<line x1="1712.4" y1="1488.5" x2="1712.4" y2="1499.1" stroke="#000" stroke-width="5.0" />
<line x1="1903.0" y1="1488.5" x2="1903.0" y2="1499.1" stroke="#000" stroke-width="5.0" />
<line x1="2093.6" y1="1488.5" x2="2093.6" y2="1499.1" stroke="#000" stroke-width="5.0" />
<line x1="2284.2" y1="1488.5" x2="2284.2" y2="1499.1" stroke="#000" stroke-width="5.0" />
<line x1="1406.9" y1="1488.5" x2="1426.5" y2="1488.5" stroke="#000" stroke-width="5.0" />
<line x1="1406.9" y1="1408.3" x2="1426.5" y2="1408.3" stroke="#000" stroke-width="5.0" />
<line x1="1406.9" y1="1328.1" x2="1426.5" y2="1328.1" stroke="#000" stroke-width="5.0" />
<line x1="1406.9" y1="1247.9" x2="1426.5" y2="1247.9" stroke="#000" stroke-width="5.0" />
<line x1="1406.9" y1="1167.7" x2="1426.5" y2="1167.7" stroke="#000" stroke-width="5.0" />
<line x1="1406.9" y1="1087.5" x2="1426.5" y2="1087.5" stroke="#000" stroke-width="5.0" />
<line x1="1406.9" y1="1007.3" x2="1426.5" y2="1007.3" stroke="#000" stroke-width="5.0" />
<line x1="1406.9" y1="927.1" x2="1426.5" y2="927.1" stroke="#000" stroke-width="5.0" />
<line x1="1406.9" y1="846.9" x2="1426.5" y2="846.9" stroke="#000" stroke-width="5.0" />
<line x1="1416.1" y1="1448.4" x2="1426.5" y2="1448.4" stroke="#000" stroke-width="5.0" />
<line x1="1416.1" y1="1368.2" x2="1426.5" y2="1368.2" stroke="#000" stroke-width="5.0" />
<line x1="1416.1" y1="1288.0" x2="1426.5" y2="1288.0" stroke="#000" stroke-width="5.0" />
<line x1="1416.1" y1="1207.8" x2="1426.5" y2="1207.8" stroke="#000" stroke-width="5.0" />
<line x1="1416.1" y1="1127.6" x2="1426.5" y2="1127.6" stroke="#000" stroke-width="5.0" />
<line x1="1416.1" y1="1047.4" x2="1426.5" y2="1047.4" stroke="#000" stroke-width="5.0" />
<line x1="1416.1" y1="967.2" x2="1426.5" y2="967.2" stroke="#000" stroke-width="5.0" />
<line x1="1416.1" y1="887.0" x2="1426.5" y2="887.0" stroke="#000" stroke-width="5.0" />
<text x="212.8 233.9 266.1" y="763.0" font-size="54" text-anchor="middle" font-family='"Liberation Serif", serif'>0.0</text>
<text x="451.0 472.0 504.3" y="763.0" font-size="54" text-anchor="middle" font-family='"Liberation Serif", serif'>0.5</text>
<text x="689.1 710.2 742.4" y="763.0" font-size="54" text-anchor="middle" font-family='"Liberation Serif", serif'>1.0</text>
<text x="927.3 948.4 980.6" y="763.0" font-size="54" text-anchor="middle" font-family='"Liberation Serif", serif'>1.5</text>
<text x="1165.5 1186.5 1218.8" y="763.0" font-size="54" text-anchor="middle" font-family='"Liberation Serif", serif'>2.0</text>
<text x="212.8 233.9 266.1" y="1567.8" font-size="54" text-anchor="middle" font-family='"Liberation Serif", serif'>0.0</text>
<text x="451.0 472.0 504.3" y="1567.8" font-size="54" text-anchor="middle" font-family='"Liberation Serif", serif'>0.5</text>
<text x="689.1 710.2 742.4" y="1567.8" font-size="54" text-anchor="middle" font-family='"Liberation Serif", serif'>1.0</text>
<text x="927.3 948.4 980.6" y="1567.8" font-size="54" text-anchor="middle" font-family='"Liberation Serif", serif'>1.5</text>
<text x="1165.5 1186.5 1218.8" y="1567.8" font-size="54" text-anchor="middle" font-family='"Liberation Serif", serif'>2.0</text>
<text x="1426.5" y="763.6" font-size="55" text-anchor="middle" font-family='"Liberation Serif", serif' >0</text>
<text x="1617.1" y="763.6" font-size="55" text-anchor="middle" font-family='"Liberation Serif", serif' >20</text>
<text x="1807.7" y="763.6" font-size="55" text-anchor="middle" font-family='"Liberation Serif", serif' >40</text>
<text x="1998.3" y="763.6" font-size="55" text-anchor="middle" font-family='"Liberation Serif", serif' >60</text>
<text x="2188.9" y="763.6" font-size="55" text-anchor="middle" font-family='"Liberation Serif", serif' >80</text>
<text x="2379.5" y="763.6" font-size="55" text-anchor="middle" font-family='"Liberation Serif", serif' >100</text>
<text x="1426.5" y="1568.0" font-size="55" text-anchor="middle" font-family='"Liberation Serif", serif' >0</text>
<text x="1617.1" y="1568.0" font-size="55" text-anchor="middle" font-family='"Liberation Serif", serif' >20</text>
<text x="1807.7" y="1568.0" font-size="55" text-anchor="middle" font-family='"Liberation Serif", serif' >40</text>
<text x="1998.3" y="1568.0" font-size="55" text-anchor="middle" font-family='"Liberation Serif", serif' >60</text>
<text x="2188.9" y="1568.0" font-size="55" text-anchor="middle" font-family='"Liberation Serif", serif' >80</text>
<text x="2379.5" y="1568.0" font-size="55" text-anchor="middle" font-family='"Liberation Serif", serif' >100</text>
<text x="204.5" y="167.1" font-size="55" text-anchor="end" font-family='"Liberation Serif", serif' >1</text>
<text x="204.5" y="340.5" font-size="55" text-anchor="end" font-family='"Liberation Serif", serif' >0</text>
<text x="204.5" y="513.9" font-size="55" text-anchor="end" font-family='"Liberation Serif", serif' >1</text>
<text x="152.2" y="513.9" font-size="55" text-anchor="start" font-family='"Liberation Serif", serif' textLength="28.2" lengthAdjust="spacingAndGlyphs">−</text>
<text x="204.5" y="687.3" font-size="55" text-anchor="end" font-family='"Liberation Serif", serif' >2</text>
<text x="152.2" y="687.3" font-size="55" text-anchor="start" font-family='"Liberation Serif", serif' textLength="28.2" lengthAdjust="spacingAndGlyphs">−</text>
<text x="1391.5" y="704.8" font-size="55" text-anchor="end" font-family='"Liberation Serif", serif' >0</text>
<text x="1391.5" y="624.6" font-size="55" text-anchor="end" font-family='"Liberation Serif", serif' >10</text>
<text x="1391.5" y="544.4" font-size="55" text-anchor="end" font-family='"Liberation Serif", serif' >20</text>
<text x="1391.5" y="464.1" font-size="55" text-anchor="end" font-family='"Liberation Serif", serif' >30</text>
<text x="1391.5" y="383.9" font-size="55" text-anchor="end" font-family='"Liberation Serif", serif' >40</text>
<text x="1391.5" y="303.7" font-size="55" text-anchor="end" font-family='"Liberation Serif", serif' >50</text>
<text x="1391.5" y="223.5" font-size="55" text-anchor="end" font-family='"Liberation Serif", serif' >60</text>
<text x="1391.5" y="143.3" font-size="55" text-anchor="end" font-family='"Liberation Serif", serif' >70</text>
<text x="1391.5" y="63.0" font-size="55" text-anchor="end" font-family='"Liberation Serif", serif' >80</text>
<text x="112.4 139.1 160.1 192.4" y="1509.7" font-size="54" text-anchor="middle" font-family='"Liberation Serif", serif'>−1.6</text>
<text x="112.4 139.1 160.1 192.4" y="1434.3" font-size="54" text-anchor="middle" font-family='"Liberation Serif", serif'>−1.2</text>
<text x="112.4 139.1 160.1 192.4" y="1358.9" font-size="54" text-anchor="middle" font-family='"Liberation Serif", serif'>−0.8</text>
<text x="112.4 139.1 160.1 192.4" y="1283.5" font-size="54" text-anchor="middle" font-family='"Liberation Serif", serif'>−0.4</text>
<text x="139.1 160.1 192.4" y="1208.1" font-size="54" text-anchor="middle" font-family='"Liberation Serif", serif'>0.0</text>
<text x="139.1 160.1 192.4" y="1132.7" font-size="54" text-anchor="middle" font-family='"Liberation Serif", serif'>0.4</text>
<text x="139.1 160.1 192.4" y="1057.3" font-size="54" text-anchor="middle" font-family='"Liberation Serif", serif'>0.8</text>
<text x="139.1 160.1 192.4" y="981.9" font-size="54" text-anchor="middle" font-family='"Liberation Serif", serif'>1.2</text>
<text x="139.1 160.1 192.4" y="906.5" font-size="54" text-anchor="middle" font-family='"Liberation Serif", serif'>1.6</text>
<text x="1391.5" y="1505.8" font-size="44.3" text-anchor="end" font-family='"Liberation Serif", serif' >0</text>
<text x="1391.5" y="1425.6" font-size="44.3" text-anchor="end" font-family='"Liberation Serif", serif' >10</text>
<text x="1391.5" y="1345.4" font-size="44.3" text-anchor="end" font-family='"Liberation Serif", serif' >20</text>
<text x="1391.5" y="1265.2" font-size="44.3" text-anchor="end" font-family='"Liberation Serif", serif' >30</text>
<text x="1391.5" y="1185.0" font-size="44.3" text-anchor="end" font-family='"Liberation Serif", serif' >40</text>
<text x="1391.5" y="1104.8" font-size="44.3" text-anchor="end" font-family='"Liberation Serif", serif' >50</text>
<text x="1391.5" y="1024.6" font-size="44.3" text-anchor="end" font-family='"Liberation Serif", serif' >60</text>
<text x="1391.5" y="944.4" font-size="44.3" text-anchor="end" font-family='"Liberation Serif", serif' >70</text>
<text x="1391.5" y="864.2" font-size="44.3" text-anchor="end" font-family='"Liberation Serif", serif' >80</text>
<text x="716.45" y="838.9" font-size="55" text-anchor="middle" font-family='"Liberation Serif", serif' textLength="187" lengthAdjust="spacingAndGlyphs">Time/ms</text>
<text x="716.45" y="1644.2" font-size="55" text-anchor="middle" font-family='"Liberation Serif", serif' textLength="187" lengthAdjust="spacingAndGlyphs">Time/ms</text>
<text x="1903.85" y="839.7" font-size="55" text-anchor="middle" font-family='"Liberation Serif", serif' textLength="326.2" lengthAdjust="spacingAndGlyphs">Frequency/kHz</text>
<text x="1903.85" y="1643.9" font-size="55" text-anchor="middle" font-family='"Liberation Serif", serif' textLength="326.2" lengthAdjust="spacingAndGlyphs">Frequency/kHz</text>
<text x="0" y="0" font-size="55" text-anchor="middle" font-family='"Liberation Serif", serif' textLength="220.3" lengthAdjust="spacingAndGlyphs" transform="translate(137.8,306.65) rotate(-90)">Voltage/V</text>
<text x="0" y="0" font-size="55" text-anchor="middle" font-family='"Liberation Serif", serif' textLength="222.1" lengthAdjust="spacingAndGlyphs" transform="translate(83.9,1168.15) rotate(-90)">Voltage/V</text>
<text x="0" y="0" font-size="55" text-anchor="middle" font-family='"Liberation Serif", serif' textLength="229.8" lengthAdjust="spacingAndGlyphs" transform="translate(1316.7,362) rotate(-90)">Amplitude</text>
<text x="0" y="0" font-size="55" text-anchor="middle" font-family='"Liberation Serif", serif' textLength="229.9" lengthAdjust="spacingAndGlyphs" transform="translate(1328,1167.65) rotate(-90)">Amplitude</text>
<text x="272.3" y="107.2" font-size="55" text-anchor="start" font-family='"Liberation Serif", serif' >(a)</text>
<text x="1471" y="107.2" font-size="55" text-anchor="start" font-family='"Liberation Serif", serif' >(b)</text>
<text x="272.3" y="900.5" font-size="55" text-anchor="start" font-family='"Liberation Serif", serif' >(c)</text>
<text x="1471" y="900.5" font-size="55" text-anchor="start" font-family='"Liberation Serif", serif' >(d)</text>
<text x="974.55" y="104.8" font-size="55" text-anchor="middle" font-family='"Liberation Serif", serif' textLength="421.5" lengthAdjust="spacingAndGlyphs">2020.2.25 18:59:28</text>
<text x="1082.5" y="173.9" font-size="55" text-anchor="middle" font-family='"Liberation Serif", serif' textLength="178.9" lengthAdjust="spacingAndGlyphs">d=75km</text>
<text x="997.4" y="918.5" font-size="55" text-anchor="middle" font-family='"Liberation Serif", serif' textLength="421.6" lengthAdjust="spacingAndGlyphs">2020.2.25 18:59:00</text>
<text x="1080.05" y="990.2" font-size="55" text-anchor="middle" font-family='"Liberation Serif", serif' textLength="231.2" lengthAdjust="spacingAndGlyphs">d=2491km</text>
<rect x="351.00" y="41.20" width="7" height="4.30" fill="#000"/>
<rect x="351.00" y="65.00" width="7" height="29.40" fill="#000"/>
<rect x="351.00" y="113.90" width="7" height="29.40" fill="#000"/>
<rect x="351.00" y="162.80" width="7" height="29.40" fill="#000"/>
<rect x="351.00" y="211.70" width="7" height="29.40" fill="#000"/>
<rect x="351.00" y="260.60" width="7" height="29.40" fill="#000"/>
<rect x="351.00" y="309.50" width="7" height="29.40" fill="#000"/>
<rect x="351.00" y="358.40" width="7" height="29.40" fill="#000"/>
<rect x="351.00" y="407.30" width="7" height="29.40" fill="#000"/>
<rect x="351.00" y="456.20" width="7" height="29.40" fill="#000"/>
<rect x="351.00" y="505.10" width="7" height="29.40" fill="#000"/>
<rect x="351.00" y="554.00" width="7" height="29.40" fill="#000"/>
<rect x="351.00" y="602.90" width="7" height="29.40" fill="#000"/>
<rect x="351.00" y="651.80" width="7" height="29.40" fill="#000"/>
<rect x="351.00" y="847.00" width="7" height="5.90" fill="#000"/>
<rect x="351.00" y="872.54" width="7" height="29.10" fill="#000"/>
<rect x="351.00" y="921.28" width="7" height="29.10" fill="#000"/>
<rect x="351.00" y="970.02" width="7" height="29.10" fill="#000"/>
<rect x="351.00" y="1018.76" width="7" height="29.10" fill="#000"/>
<rect x="351.00" y="1067.50" width="7" height="29.10" fill="#000"/>
<rect x="351.00" y="1116.24" width="7" height="29.10" fill="#000"/>
<rect x="351.00" y="1164.98" width="7" height="29.10" fill="#000"/>
<rect x="351.00" y="1213.72" width="7" height="29.10" fill="#000"/>
<rect x="351.00" y="1262.46" width="7" height="29.10" fill="#000"/>
<rect x="351.00" y="1311.20" width="7" height="29.10" fill="#000"/>
<rect x="351.00" y="1359.94" width="7" height="29.10" fill="#000"/>
<rect x="351.00" y="1408.68" width="7" height="29.10" fill="#000"/>
<rect x="351.00" y="1457.42" width="7" height="29.10" fill="#000"/>
<line x1="298.2" y1="615.7" x2="327.5" y2="586.6" stroke="#000" stroke-width="3.1" stroke-linecap="round"/>
<polygon points="346.9,567.2 322.1,581.0 332.9,592.3" fill="#000"/>
<line x1="296.6" y1="1376.4" x2="331.0" y2="1426.7" stroke="#000" stroke-width="3.1" stroke-linecap="round"/>
<polygon points="346.8,1449.6 324.3,1431.1 337.6,1422.2" fill="#000"/>
<text x="278.4" y="642.4" font-size="55" text-anchor="start" font-family='"Liberation Serif", serif' >t</text>
<text x="303.7" y="657.3" font-size="38" text-anchor="start" font-family='"Liberation Serif", serif' textLength="16.5" lengthAdjust="spacingAndGlyphs">0</text>
<text x="277.6" y="1361.5" font-size="55" text-anchor="start" font-family='"Liberation Serif", serif' >t</text>
<text x="302.6" y="1376.5" font-size="38" text-anchor="start" font-family='"Liberation Serif", serif' textLength="17" lengthAdjust="spacingAndGlyphs">0</text>
<polyline points="240.3,343 240.3,304.5 242,303.6 245,304.6 248,306" fill="none" stroke="#0000ff" stroke-width="2.2"/>
</svg></body></html>
